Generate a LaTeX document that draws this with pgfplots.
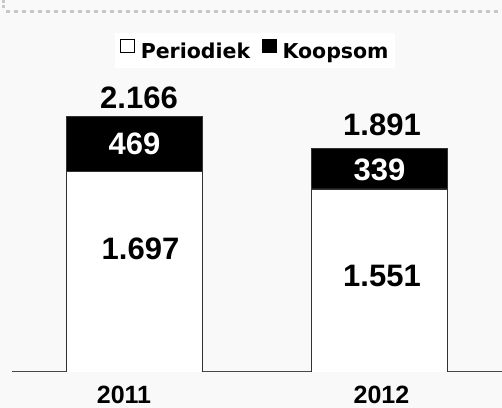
\documentclass[border=0pt]{standalone}
\usepackage{pgfplots}
\pgfplotsset{compat=1.18}
\usepackage{fontspec}
\setmainfont{Liberation Sans}
\newfontfamily\legfont{DejaVu Sans}
\definecolor{bg}{RGB}{249,249,249}
\definecolor{dots}{RGB}{200,200,200}
\definecolor{edge}{RGB}{50,50,50}
\newcommand{\valfont}{\fontsize{31bp}{31bp}\selectfont\bfseries}
\newcommand{\yearfont}{\fontsize{25bp}{25bp}\selectfont\bfseries}
\begin{document}
\begin{tikzpicture}
\fill[bg] (0,0) rectangle (502bp,408bp);
\useasboundingbox (0,0) rectangle (502bp,408bp);
\draw[dots, line width=3.5bp, dash pattern=on 3.5bp off 4.5bp] (6bp,396.5bp) -- (502bp,396.5bp);
\draw[dots, line width=3.5bp, dash pattern=on 3.5bp off 2bp] (3.5bp,408bp) -- (3.5bp,400bp);
\begin{axis}[
  at={(12bp,36bp)}, anchor=south west,
  scale only axis, width=490bp, height=354bp,
  xmin=-0.50256, xmax=1.50358, ymin=0, ymax=3000,
  hide axis,
  ybar stacked, bar width=136bp,
  legend columns=2,
  legend style={at={(0.4959,0.907)}, anchor=center, fill=white, draw=none,
    inner xsep=5bp, inner ysep=6bp,
    font=\legfont\bfseries\fontsize{20.5bp}{20.5bp}\selectfont,
    nodes={inner xsep=1bp},
    /tikz/every odd column/.append style={column sep=5bp},
    /tikz/every even column/.append style={column sep=11bp}},
]
\addplot[fill=white, draw=edge, line width=0.9bp,
  legend image code/.code={\draw[fill=white,draw=black,line width=0.9bp] (0.5bp,-1bp) rectangle (14bp,12bp);}]
  coordinates {(0,1697) (1,1551)};
\addlegendentry{Periodiek}
\addplot[fill=black, draw=edge, line width=0.9bp,
  legend image code/.code={\draw[fill=black,draw=black,line width=0.9bp] (0.5bp,-1bp) rectangle (14bp,12bp);}]
  coordinates {(0,469) (1,340)};
\addlegendentry{Koopsom}
\draw[color=edge!90, line width=1.2bp] (axis cs:-0.50256,0) -- (axis cs:1.50358,0);
\end{axis}
\node[anchor=base, inner sep=0] at (139bp,299.7bp) {\valfont 2.166};
\node[anchor=base, inner sep=0, text=white] at (134.5bp,253bp) {\valfont 469};
\node[anchor=base, inner sep=0] at (140.5bp,148bp) {\valfont 1.697};
\node[anchor=base, inner sep=0] at (382bp,272bp) {\valfont 1.891};
\node[anchor=base, inner sep=0, text=white] at (379.5bp,227bp) {\valfont 339};
\node[anchor=base, inner sep=0] at (382bp,121.3bp) {\valfont 1.551};
\node[anchor=base, inner sep=0] at (124bp,5bp) {\yearfont 2011};
\node[anchor=base, inner sep=0] at (381.5bp,5bp) {\yearfont 2012};
\end{tikzpicture}
\end{document}
